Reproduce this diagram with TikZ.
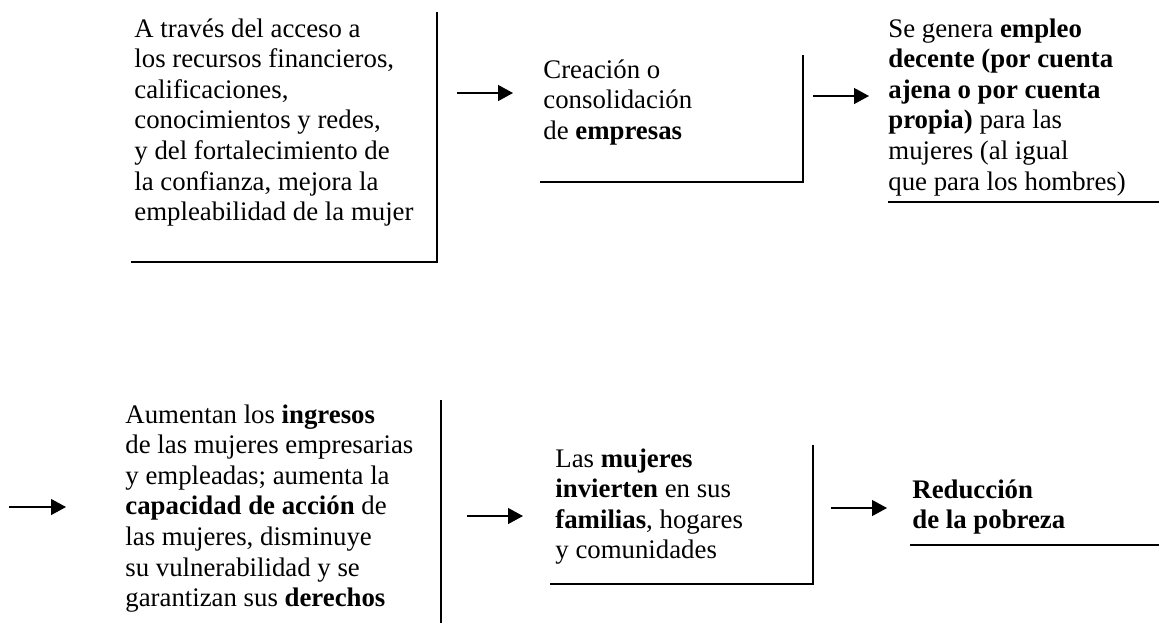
\documentclass[tikz,border=0pt]{standalone}
\usepackage{fontspec}
\setmainfont{Liberation Serif}
\usetikzlibrary{arrows.meta}
\tikzset{
  txt/.style={anchor=base west, inner sep=0pt, font=\fontsize{13.4pt}{15.3pt}\selectfont},
  edgeline/.style={line width=1pt},
  arr/.style={line width=0.65pt, -{Triangle[length=7.5pt,width=8pt]}},
}
\newcommand{\blk}[1]{\parbox[t]{260pt}{\raggedright #1}}
\begin{document}
\begin{tikzpicture}[x=0.5pt,y=-0.5pt]
\useasboundingbox (0,0) rectangle (1159,623);
% texts
\node[txt] (t1) at (134,37) {\blk{A través del acceso a\\los recursos financieros,\\calificaciones,\\conocimientos y redes,\\y del fortalecimiento de\\la confianza, mejora la\\empleabilidad de la mujer}};
\node[txt] (t2) at (543,78) {\blk{Creación o\\consolidación\\de \textbf{empresas}}};
\node[txt] (t3) at (888,37) {\blk{Se genera \textbf{empleo}\\\textbf{decente (por cuenta}\\\textbf{ajena o por cuenta}\\\textbf{propia)} para las\\mujeres (al igual\\que para los hombres)}};
\node[txt] (t4) at (125,423) {\blk{Aumentan los \textbf{ingresos}\\de las mujeres empresarias\\y empleadas; aumenta la\\\textbf{capacidad de acción} de\\las mujeres, disminuye\\su vulnerabilidad y se\\garantizan sus \textbf{derechos}}};
\node[txt] (t5) at (555,467) {\blk{Las \textbf{mujeres}\\\textbf{invierten} en sus\\\textbf{familias}, hogares\\y comunidades}};
\node[txt] (t6) at (912,498) {\blk{\textbf{Reducción}\\\textbf{de la pobreza}}};
% box edges
\coordinate (b1tr) at (437,12); \coordinate (b1br) at (437,262); \coordinate (b1bl) at (131,262);
\coordinate (b2tr) at (803,55); \coordinate (b2br) at (803,182); \coordinate (b2bl) at (540,182);
\coordinate (b3bl) at (888,202); \coordinate (b3br) at (1159,202);
\coordinate (b4tr) at (441,400); \coordinate (b4br) at (441,623);
\coordinate (b5tr) at (813,445); \coordinate (b5br) at (813,584); \coordinate (b5bl) at (550,584);
\coordinate (b6bl) at (910,545); \coordinate (b6br) at (1159,545);
\draw[edgeline] (b1tr) -- (b1br) -- (b1bl);
\draw[edgeline] (b2tr) -- (b2br) -- (b2bl);
\draw[edgeline] (b3bl) -- (b3br);
\draw[edgeline] (b4tr) -- (b4br);
\draw[edgeline] (b5tr) -- (b5br) -- (b5bl);
\draw[edgeline] (b6bl) -- (b6br);
% arrows
\coordinate (a1s) at (457,93); \coordinate (a1e) at (513,93);
\coordinate (a2s) at (813,96); \coordinate (a2e) at (869,96);
\coordinate (a3s) at (9,507); \coordinate (a3e) at (66,507);
\coordinate (a4s) at (467,516); \coordinate (a4e) at (523,516);
\coordinate (a5s) at (831,508); \coordinate (a5e) at (887,508);
\draw[arr] (a1s) -- (a1e);
\draw[arr] (a2s) -- (a2e);
\draw[arr] (a3s) -- (a3e);
\draw[arr] (a4s) -- (a4e);
\draw[arr] (a5s) -- (a5e);
\end{tikzpicture}
\end{document}
